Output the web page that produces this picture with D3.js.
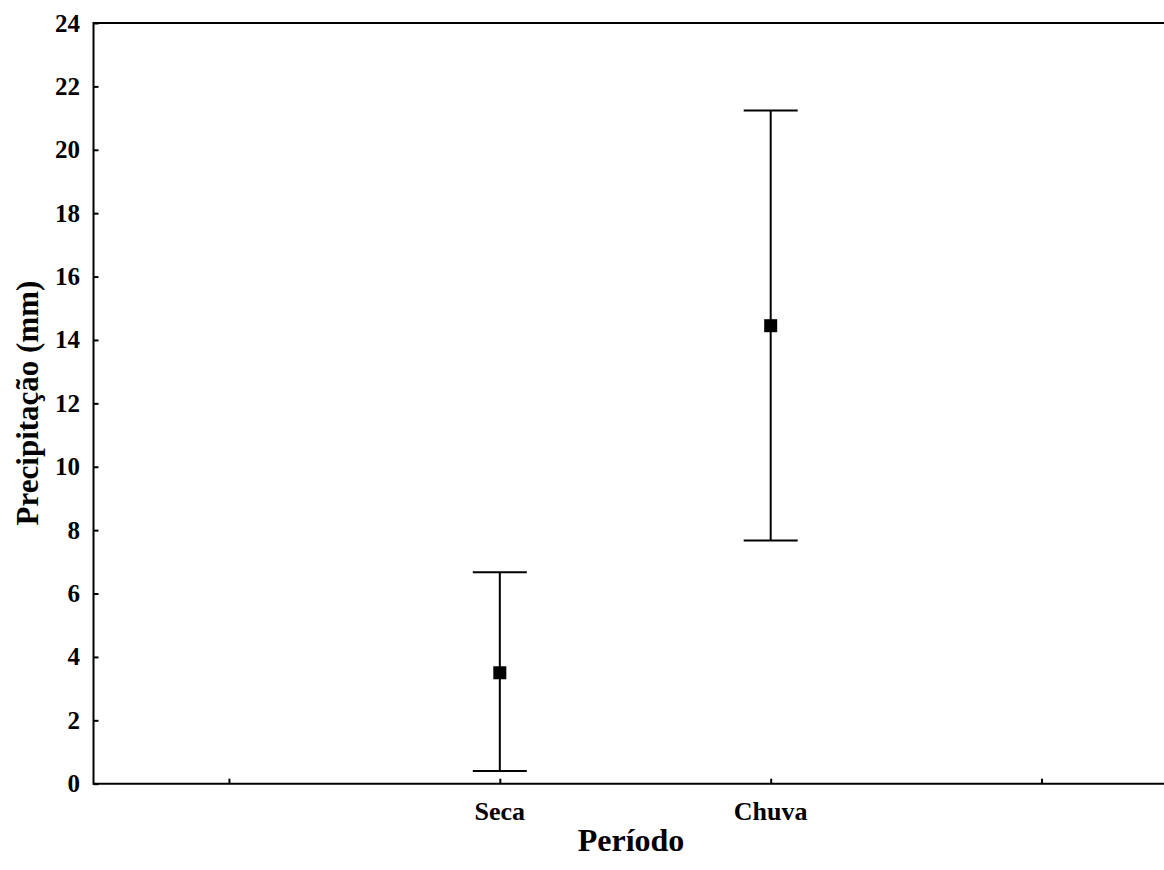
<!DOCTYPE html>
<html>
<head>
<meta charset="utf-8">
<script src="https://cdn.jsdelivr.net/npm/d3@7"></script>
<style>
  body { margin: 0; background: #fff; }
  text { font-family: "Liberation Serif", "Times New Roman", serif; font-weight: bold; }
</style>
</head>
<body>
<div id="chart"></div>
<script>
// values
var categories = ["Seca", "Chuva"];
var catPos = [2, 3];
var means = [3.5, 14.45];
var upper = [6.67, 21.24];
var lower = [0.4, 7.67];
var xTicks = [1, 2, 3, 4];
var xTickLabels = ["", "Seca", "Chuva", ""];
var yTicks = [0, 2, 4, 6, 8, 10, 12, 14, 16, 18, 20, 22, 24];

var width = 1164, height = 870;
var plotLeft = 93.5, plotTop = 23, plotBottom = 783.7;

var svg = d3.select("#chart")
  .append("svg")
  .attr("width", width)
  .attr("height", height);

var x = d3.scaleLinear().domain([0.5, 4.5]).range([plotLeft, 1177]);
var y = d3.scaleLinear().domain([0, 24]).range([plotBottom, plotTop]);

// y axis, ticks pointing inward
var yAxis = svg.append("g")
  .attr("transform", "translate(" + plotLeft + ",0)")
  .call(d3.axisRight(y).tickValues(yTicks).tickSize(5).tickFormat(""));
yAxis.select(".domain").remove();
yAxis.selectAll("line").attr("stroke", "#000").attr("stroke-width", 2);

svg.selectAll(".ylab")
  .data(yTicks)
  .enter().append("text")
  .attr("class", "ylab")
  .attr("x", 80)
  .attr("y", function(d) { return y(d); })
  .attr("dy", "0.34em")
  .attr("text-anchor", "end")
  .attr("font-size", 25)
  .text(function(d) { return d; });

// x axis, ticks pointing up
var xAxis = svg.append("g")
  .attr("transform", "translate(0," + plotBottom + ")")
  .call(d3.axisTop(x).tickValues(xTicks).tickSize(5).tickFormat(""));
xAxis.select(".domain").remove();
xAxis.selectAll("line").attr("stroke", "#000").attr("stroke-width", 2);

svg.selectAll(".xlab")
  .data(xTicks)
  .enter().append("text")
  .attr("class", "xlab")
  .attr("x", function(d) { return x(d); })
  .attr("y", 820)
  .attr("text-anchor", "middle")
  .attr("font-size", 26)
  .text(function(d, i) { return xTickLabels[i]; });

// frame lines: left, bottom, top
svg.append("line").attr("x1", plotLeft).attr("x2", plotLeft).attr("y1", plotTop - 1).attr("y2", plotBottom + 1)
  .attr("stroke", "#000").attr("stroke-width", 2);
svg.append("line").attr("x1", plotLeft).attr("x2", x.range()[1]).attr("y1", plotBottom).attr("y2", plotBottom)
  .attr("stroke", "#000").attr("stroke-width", 2);
svg.append("line").attr("x1", plotLeft).attr("x2", x.range()[1]).attr("y1", plotTop).attr("y2", plotTop)
  .attr("stroke", "#000").attr("stroke-width", 2);

// error bars
var capW = 27;
var bars = svg.selectAll(".err")
  .data(categories)
  .enter().append("g")
  .attr("class", "err");

bars.append("line")
  .attr("x1", function(d, i) { return x(catPos[i]); })
  .attr("x2", function(d, i) { return x(catPos[i]); })
  .attr("y1", function(d, i) { return y(upper[i]); })
  .attr("y2", function(d, i) { return y(lower[i]); })
  .attr("stroke", "#000").attr("stroke-width", 2);
bars.append("line")
  .attr("x1", function(d, i) { return x(catPos[i]) - capW; })
  .attr("x2", function(d, i) { return x(catPos[i]) + capW; })
  .attr("y1", function(d, i) { return y(upper[i]); })
  .attr("y2", function(d, i) { return y(upper[i]); })
  .attr("stroke", "#000").attr("stroke-width", 2);
bars.append("line")
  .attr("x1", function(d, i) { return x(catPos[i]) - capW; })
  .attr("x2", function(d, i) { return x(catPos[i]) + capW; })
  .attr("y1", function(d, i) { return y(lower[i]); })
  .attr("y2", function(d, i) { return y(lower[i]); })
  .attr("stroke", "#000").attr("stroke-width", 2);
bars.append("rect")
  .attr("x", function(d, i) { return x(catPos[i]) - 6.5; })
  .attr("y", function(d, i) { return y(means[i]) - 6.5; })
  .attr("width", 13)
  .attr("height", 13)
  .attr("fill", "#000");

// titles
svg.append("text")
  .attr("x", 631)
  .attr("y", 851)
  .attr("text-anchor", "middle")
  .attr("font-size", 32)
  .text("Período");

svg.append("text")
  .attr("transform", "translate(38,403) rotate(-90)")
  .attr("text-anchor", "middle")
  .attr("font-size", 31)
  .text("Precipitação (mm)");
</script>
</body>
</html>
